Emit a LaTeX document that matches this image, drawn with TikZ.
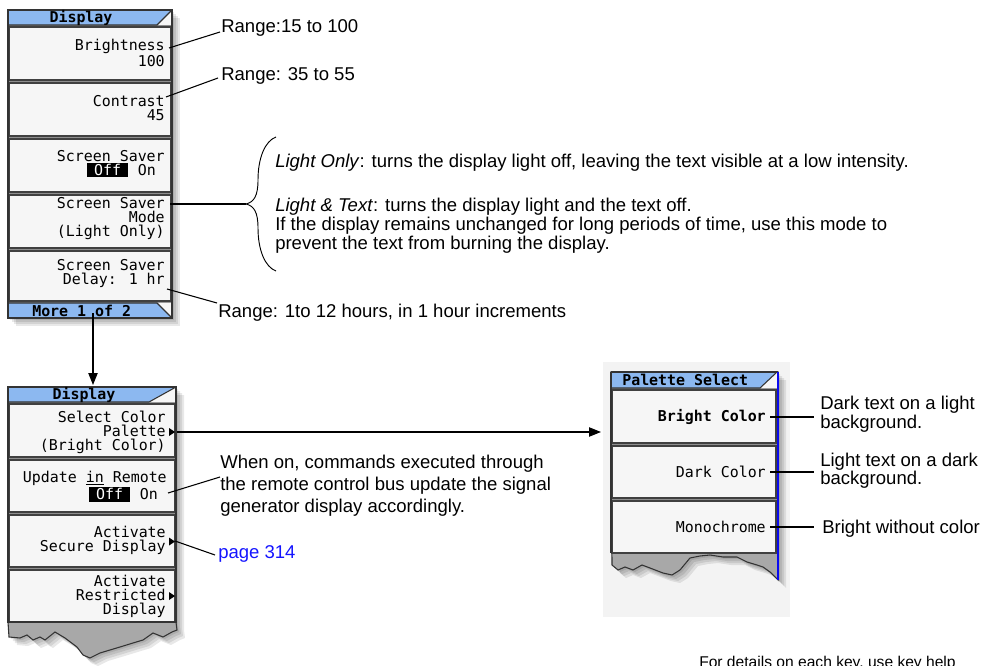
\documentclass[tikz,border=0pt]{standalone}
\usepackage{fontspec}
\setmainfont{Liberation Sans}
\newfontfamily\keyfont{DejaVu Sans Mono}
\usetikzlibrary{arrows.meta}
\definecolor{panelbg}{HTML}{F6F6F6}
\definecolor{hdrblue}{HTML}{8CB8F0}
\definecolor{sepgray}{HTML}{8E8E8E}
\definecolor{tornfill}{HTML}{A8A8A8}
\definecolor{linkblue}{HTML}{1414FF}
\definecolor{edgeblue}{HTML}{0A0AF0}
\definecolor{backlight}{HTML}{F3F3F3}
\newcommand\offkey{{\setlength{\fboxsep}{1pt}\colorbox{black}{\hspace{4.5pt}\textcolor{white}{Off}\hspace{4.5pt}}}\hspace{7pt}On\hphantom{x}}
\def\paneltwo{(8,387) -- (176,387) -- (176,622) -- (177,630) -- (172,632) -- (163,637) -- (153,633) -- (143,640) -- (133,643) -- (120,647) -- (110,650) -- (100,653) -- (90,658) -- (83,655) -- (77,647) -- (65,638) -- (55,632) -- (45,640) -- (40,637) -- (33,640) -- (27,635) -- (20,638) -- (9,637) -- (8,622) -- cycle}
\def\panelthree{(611,372) -- (778,372) -- (778,580) -- (770,572) -- (763,567) -- (757,565) -- (747,562) -- (737,557) -- (723,557) -- (710,555) -- (700,556) -- (690,558) -- (680,570) -- (672,575) -- (663,573) -- (650,568) -- (642,565) -- (633,570) -- (625,567) -- (618,570) -- (612,565) -- cycle}
\tikzset{
  keytext/.style={font=\keyfont\fontsize{11.2}{10.5}\selectfont, align=right, inner sep=0pt, anchor=east},
  hdrtext/.style={font=\keyfont\bfseries\fontsize{11.2}{10.5}\selectfont, inner sep=0pt},
  note/.style={font=\fontsize{13.9}{16}\selectfont, inner sep=0pt, anchor=base west},
  smallnote/.style={note, font=\fontsize{11.7}{14}\selectfont},
  keybox/.style={fill=panelbg, draw=black!75, line width=0.8pt},
  frame/.style={draw=black!80, line width=0.8pt},
  conn/.style={draw=black, line width=0.8pt},
  arr/.style={conn, -{Triangle[length=9pt,width=7pt]}},
  tri/.style={fill=black},
  shadow/.style={fill=black, opacity=0.09},
}
\begin{document}
\begin{tikzpicture}[x=0.75pt,y=-0.75pt]
\useasboundingbox (0,0) rectangle (988,666);
\fill[white] (0,0) rectangle (988,666);

% ---------------- panel 1 ----------------
\foreach \o in {2,4,6,8} {\fill[shadow,shift={(\o,\o)}] (8,10) rectangle (172,318);}
\fill[sepgray] (8,10) rectangle (172,318);
\fill[hdrblue] (8,10) -- (172,10) -- (157,25) -- (8,25) -- cycle;
\fill[panelbg] (172,10) -- (172,25) -- (157,25) -- cycle;
\draw[frame] (8,25) -- (157,25) -- (172,10);
\draw[keybox] (9,27) rectangle (171,80);
\draw[keybox] (9,83) rectangle (171,136);
\draw[keybox] (9,139) rectangle (171,192);
\draw[keybox] (9,195) rectangle (171,248);
\draw[keybox] (9,251) rectangle (171,301);
\fill[hdrblue] (8,303) -- (157,303) -- (172,318) -- (8,318) -- cycle;
\fill[panelbg] (157,303) -- (172,303) -- (172,318) -- cycle;
\draw[frame] (8,303) -- (157,303) -- (172,318);
\draw[frame] (8,10) rectangle (172,318);

\node[hdrtext] (h1) at (81,17.5) {Display};
\node[keytext] (k1) at (165,53) {Brightness\\100};
\node[keytext] (k2) at (165,108) {Contrast\\45};
\node[keytext] (k3) at (165,164) {Screen Saver\\\offkey};
\node[keytext] (k4) at (165,219) {Screen Saver\\Mode\\(Light Only)};
\node[keytext] (k5) at (165,274) {Screen Saver\\Delay: 1 hr};
\node[hdrtext, anchor=west] (m1) at (32,310.5) {More 1 of 2};

% ---------------- panel 2 ----------------
\foreach \o in {2,4,6,8} {\fill[shadow,shift={(\o,\o)}] \paneltwo;}
\fill[tornfill] \paneltwo;
\draw[frame] \paneltwo;
\fill[sepgray] (8,387) rectangle (176,622);
\fill[hdrblue] (8,387) -- (176,387) -- (149,402) -- (8,402) -- cycle;
\fill[panelbg] (176,387) -- (176,402) -- (149,402) -- cycle;
\draw[frame] (8,402) -- (149,402) -- (176,387);
\draw[keybox] (9,404) rectangle (175,457);
\draw[keybox] (9,460) rectangle (175,512);
\draw[keybox] (9,515) rectangle (175,567);
\draw[keybox] (9,570) rectangle (175,622);
\draw[frame] (8,387) rectangle (176,622);

\node[hdrtext] (h2) at (84,395) {Display};
\node[keytext] (q1) at (166,432) {Select Color\\Palette\\(Bright Color)};
\node[keytext] (q2) at (167,486.5) {Update \underline{in} Remote\\\offkey};
\node[keytext] (q3) at (166,540.5) {Activate\\Secure Display};
\node[keytext] (q4) at (166,596.5) {Activate\\Restricted\\Display};
\fill[tri] (169,428) -- (175,432) -- (169,436) -- cycle;
\fill[tri] (169,537.5) -- (175,541.5) -- (169,545.5) -- cycle;
\fill[tri] (169,592) -- (175,596) -- (169,600) -- cycle;

% ---------------- panel 3 ----------------
\fill[backlight] (603,362) rectangle (790,617);
\foreach \o in {2,4,6,8} {\fill[shadow,shift={(\o,\o)}] \panelthree;}
\fill[tornfill] \panelthree;
\draw[frame] \panelthree;
\fill[sepgray] (611,372) rectangle (778,553);
\fill[hdrblue] (611,372) -- (777,372) -- (760,388) -- (611,388) -- cycle;
\fill[panelbg] (777,372) -- (777,388) -- (760,388) -- cycle;
\draw[frame] (611,388) -- (760,388) -- (777,372);
\draw[keybox] (612,390) rectangle (776,443);
\draw[keybox] (612,446) rectangle (776,498);
\draw[keybox] (612,501) rectangle (776,553);
\draw[frame] (611,372) -- (778,372);
\draw[frame] (611,372) -- (611,553);
\draw[draw=edgeblue, line width=1.6pt] (778,372) -- (778,580);

\node[hdrtext, anchor=west] (h3) at (622,380) {Palette Select};
\node[keytext, font=\keyfont\bfseries\fontsize{11.2}{10.5}\selectfont] (bc) at (766,417) {Bright Color};
\node[keytext] (dc) at (766,472) {Dark Color};
\node[keytext] (mc) at (766,527) {Monochrome};

% ---------------- annotations ----------------
\node[note] (r1) at (221,33) {Range:15 to 100};
\node[note] (r2) at (221,81) {Range: 35 to 55};
\node[note] (lo) at (275,168) {\textit{Light Only}: turns the display light off, leaving the text visible at a low intensity.};
\node[note] (lt1) at (275,212) {\textit{Light \& Text}: turns the display light and the text off.};
\node[note] (lt2) at (275,231) {If the display remains unchanged for long periods of time, use this mode to};
\node[note] (lt3) at (275,249.5) {prevent the text from burning the display.};
\node[note] (r5) at (218,318) {Range: 1to 12 hours, in 1 hour increments};
\node[note] (w1) at (220,468) {When on, commands executed through};
\node[note] (w2) at (220,490) {the remote control bus update the signal};
\node[note] (w3) at (220,512) {generator display accordingly.};
\node[note, text=linkblue] (pg) at (218,558) {page 314};
\node[note] (d1) at (820,409) {Dark text on a light};
\node[note] (d2) at (820,428) {background.};
\node[note] (l1) at (820,466) {Light text on a dark};
\node[note] (l2) at (820,484) {background.};
\node[note] (bw) at (822,533) {Bright without color};
\node[smallnote] (fd) at (699,667) {For details on each key, use key help};

% connector end points
\coordinate (c1) at (169,48);
\coordinate (c2) at (166,97);
\coordinate (c4) at (170,204);
\coordinate (bt) at (246,204);
\coordinate (c5) at (167,289);
\coordinate (c7) at (168,493);
\coordinate (c8) at (175,541);
\coordinate (ma) at (93,313);
\coordinate (p2in) at (93,385);
\coordinate (pa) at (177,432);
\coordinate (p3in) at (601,432);

\draw[conn] (c1) -- ([shift={(-1,-1)}]r1.base west);
\draw[conn] (c2) -- ([shift={(-3,-3)}]r2.base west);
\draw[conn] (c4) -- (bt);
\draw[conn, line width=0.7pt] (276,137) .. controls (265,141) and (258,158) .. (258,180)
  .. controls (258,196) and (254,202) .. (bt)
  .. controls (254,206) and (258,212) .. (258,228)
  .. controls (258,250) and (265,267) .. (276,271);
\draw[conn] (c5) -- ([shift={(-1,-15)}]r5.base west);
\draw[conn] (c7) -- ([shift={(0,9)}]w1.base west);
\draw[conn] (c8) -- ([shift={(-3,-3)}]pg.base west);
\draw[arr] (ma) -- (p2in);
\draw[arr] (pa) -- (p3in);
\draw[conn] ([xshift=3pt]bc.east) -- ([shift={(-6,8)}]d1.base west);
\draw[conn] ([xshift=3pt]dc.east) -- ([shift={(-6,6)}]l1.base west);
\draw[conn] ([xshift=3pt]mc.east) -- ([shift={(-8,-6)}]bw.base west);
\end{tikzpicture}
\end{document}
